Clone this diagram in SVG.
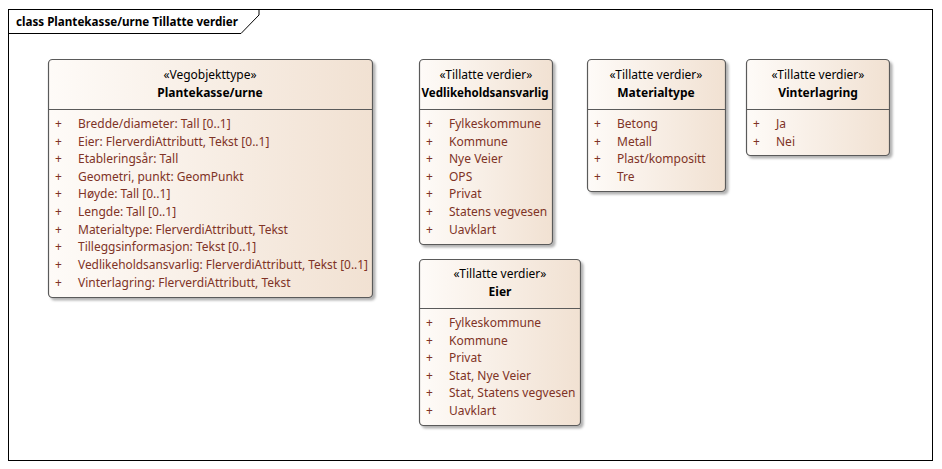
<svg xmlns="http://www.w3.org/2000/svg" width="942" height="469" viewBox="0 0 942 469">
<defs>
<linearGradient id="g" x1="0" y1="0" x2="1" y2="0">
<stop offset="0" stop-color="#FEFBF8"/>
<stop offset="1" stop-color="#F1E1D2"/>
</linearGradient>
<filter id="sh" x="-5%" y="-5%" width="115%" height="115%">
<feDropShadow dx="2.5" dy="2.5" stdDeviation="1.2" flood-color="#000" flood-opacity="0.3"/>
</filter>
<style>
.box{fill:url(#g);stroke:#5a5a5a;stroke-width:1.2}
.div{stroke:#5a5a5a;stroke-width:1.2}
text{font-family:"Noto Sans","Open Sans","Liberation Sans",sans-serif;font-size:12px}
.st{fill:#000;text-anchor:middle}
.nm{fill:#000;text-anchor:middle;font-weight:bold}
.at{fill:#7F3326}
.title{font-weight:bold;fill:#000}
</style>
</defs>
<rect x="0" y="0" width="942" height="469" fill="#fff"/>
<g id="frame">
<rect x="8.5" y="9.5" width="924" height="451" fill="none" stroke="#000" stroke-width="1"/>
<path d="M8.5,33.5 H241 L259,15 V9.5" fill="none" stroke="#000" stroke-width="1"/>
<text class="title" x="16" y="26" textLength="222" lengthAdjust="spacingAndGlyphs">class Plantekasse/urne Tillatte verdier</text>
</g>
<g id="connectors"/>
<g id="Plantekasse">
<rect class="box" x="48.5" y="59.5" width="324" height="238" rx="4" filter="url(#sh)"/>
<line class="div" x1="48.5" y1="109.5" x2="372.5" y2="109.5"/>
<text class="st" x="210" y="79">«Vegobjekttype»</text>
<text class="nm" x="210" y="97">Plantekasse/urne</text>
<g class="at">
<text x="55" y="128">+</text><text x="78" y="128">Bredde/diameter: Tall [0..1]</text>
<text x="55" y="146">+</text><text x="78" y="146">Eier: FlerverdiAttributt, Tekst [0..1]</text>
<text x="55" y="163">+</text><text x="78" y="163">Etableringsår: Tall</text>
<text x="55" y="181">+</text><text x="78" y="181">Geometri, punkt: GeomPunkt</text>
<text x="55" y="198">+</text><text x="78" y="198">Høyde: Tall [0..1]</text>
<text x="55" y="216">+</text><text x="78" y="216">Lengde: Tall [0..1]</text>
<text x="55" y="234">+</text><text x="78" y="234">Materialtype: FlerverdiAttributt, Tekst</text>
<text x="55" y="251">+</text><text x="78" y="251">Tilleggsinformasjon: Tekst [0..1]</text>
<text x="55" y="269">+</text><text x="78" y="269" textLength="290" lengthAdjust="spacingAndGlyphs">Vedlikeholdsansvarlig: FlerverdiAttributt, Tekst [0..1]</text>
<text x="55" y="287">+</text><text x="78" y="287">Vinterlagring: FlerverdiAttributt, Tekst</text>
</g>
</g>
<g id="Vedlikeholdsansvarlig">
<rect class="box" x="419.5" y="59.5" width="133" height="185" rx="4" filter="url(#sh)"/>
<line class="div" x1="419.5" y1="109.5" x2="552.5" y2="109.5"/>
<text class="st" x="486" y="79">«Tillatte verdier»</text>
<text class="nm" x="485" y="97" textLength="127" lengthAdjust="spacingAndGlyphs">Vedlikeholdsansvarlig</text>
<g class="at">
<text x="426" y="128">+</text><text x="449" y="128">Fylkeskommune</text>
<text x="426" y="146">+</text><text x="449" y="146">Kommune</text>
<text x="426" y="163">+</text><text x="449" y="163">Nye Veier</text>
<text x="426" y="181">+</text><text x="449" y="181">OPS</text>
<text x="426" y="198">+</text><text x="449" y="198">Privat</text>
<text x="426" y="216">+</text><text x="449" y="216">Statens vegvesen</text>
<text x="426" y="234">+</text><text x="449" y="234">Uavklart</text>
</g>
</g>
<g id="Materialtype">
<rect class="box" x="587.5" y="59.5" width="138" height="132" rx="4" filter="url(#sh)"/>
<line class="div" x1="587.5" y1="109.5" x2="725.5" y2="109.5"/>
<text class="st" x="656" y="79">«Tillatte verdier»</text>
<text class="nm" x="656" y="97">Materialtype</text>
<g class="at">
<text x="594" y="128">+</text><text x="617" y="128">Betong</text>
<text x="594" y="146">+</text><text x="617" y="146">Metall</text>
<text x="594" y="163">+</text><text x="617" y="163">Plast/kompositt</text>
<text x="594" y="181">+</text><text x="617" y="181">Tre</text>
</g>
</g>
<g id="Vinterlagring">
<rect class="box" x="746.5" y="59.5" width="143" height="96" rx="4" filter="url(#sh)"/>
<line class="div" x1="746.5" y1="109.5" x2="889.5" y2="109.5"/>
<text class="st" x="818" y="79">«Tillatte verdier»</text>
<text class="nm" x="818" y="97">Vinterlagring</text>
<g class="at">
<text x="753" y="128">+</text><text x="776" y="128">Ja</text>
<text x="753" y="146">+</text><text x="776" y="146">Nei</text>
</g>
</g>
<g id="Eier">
<rect class="box" x="419.5" y="259.5" width="161" height="166" rx="4" filter="url(#sh)"/>
<line class="div" x1="419.5" y1="308.5" x2="580.5" y2="308.5"/>
<text class="st" x="500" y="278">«Tillatte verdier»</text>
<text class="nm" x="500" y="296">Eier</text>
<g class="at">
<text x="426" y="327">+</text><text x="449" y="327">Fylkeskommune</text>
<text x="426" y="345">+</text><text x="449" y="345">Kommune</text>
<text x="426" y="362">+</text><text x="449" y="362">Privat</text>
<text x="426" y="380">+</text><text x="449" y="380">Stat, Nye Veier</text>
<text x="426" y="397">+</text><text x="449" y="397">Stat, Statens vegvesen</text>
<text x="426" y="415">+</text><text x="449" y="415">Uavklart</text>
</g>
</g>
</svg>
